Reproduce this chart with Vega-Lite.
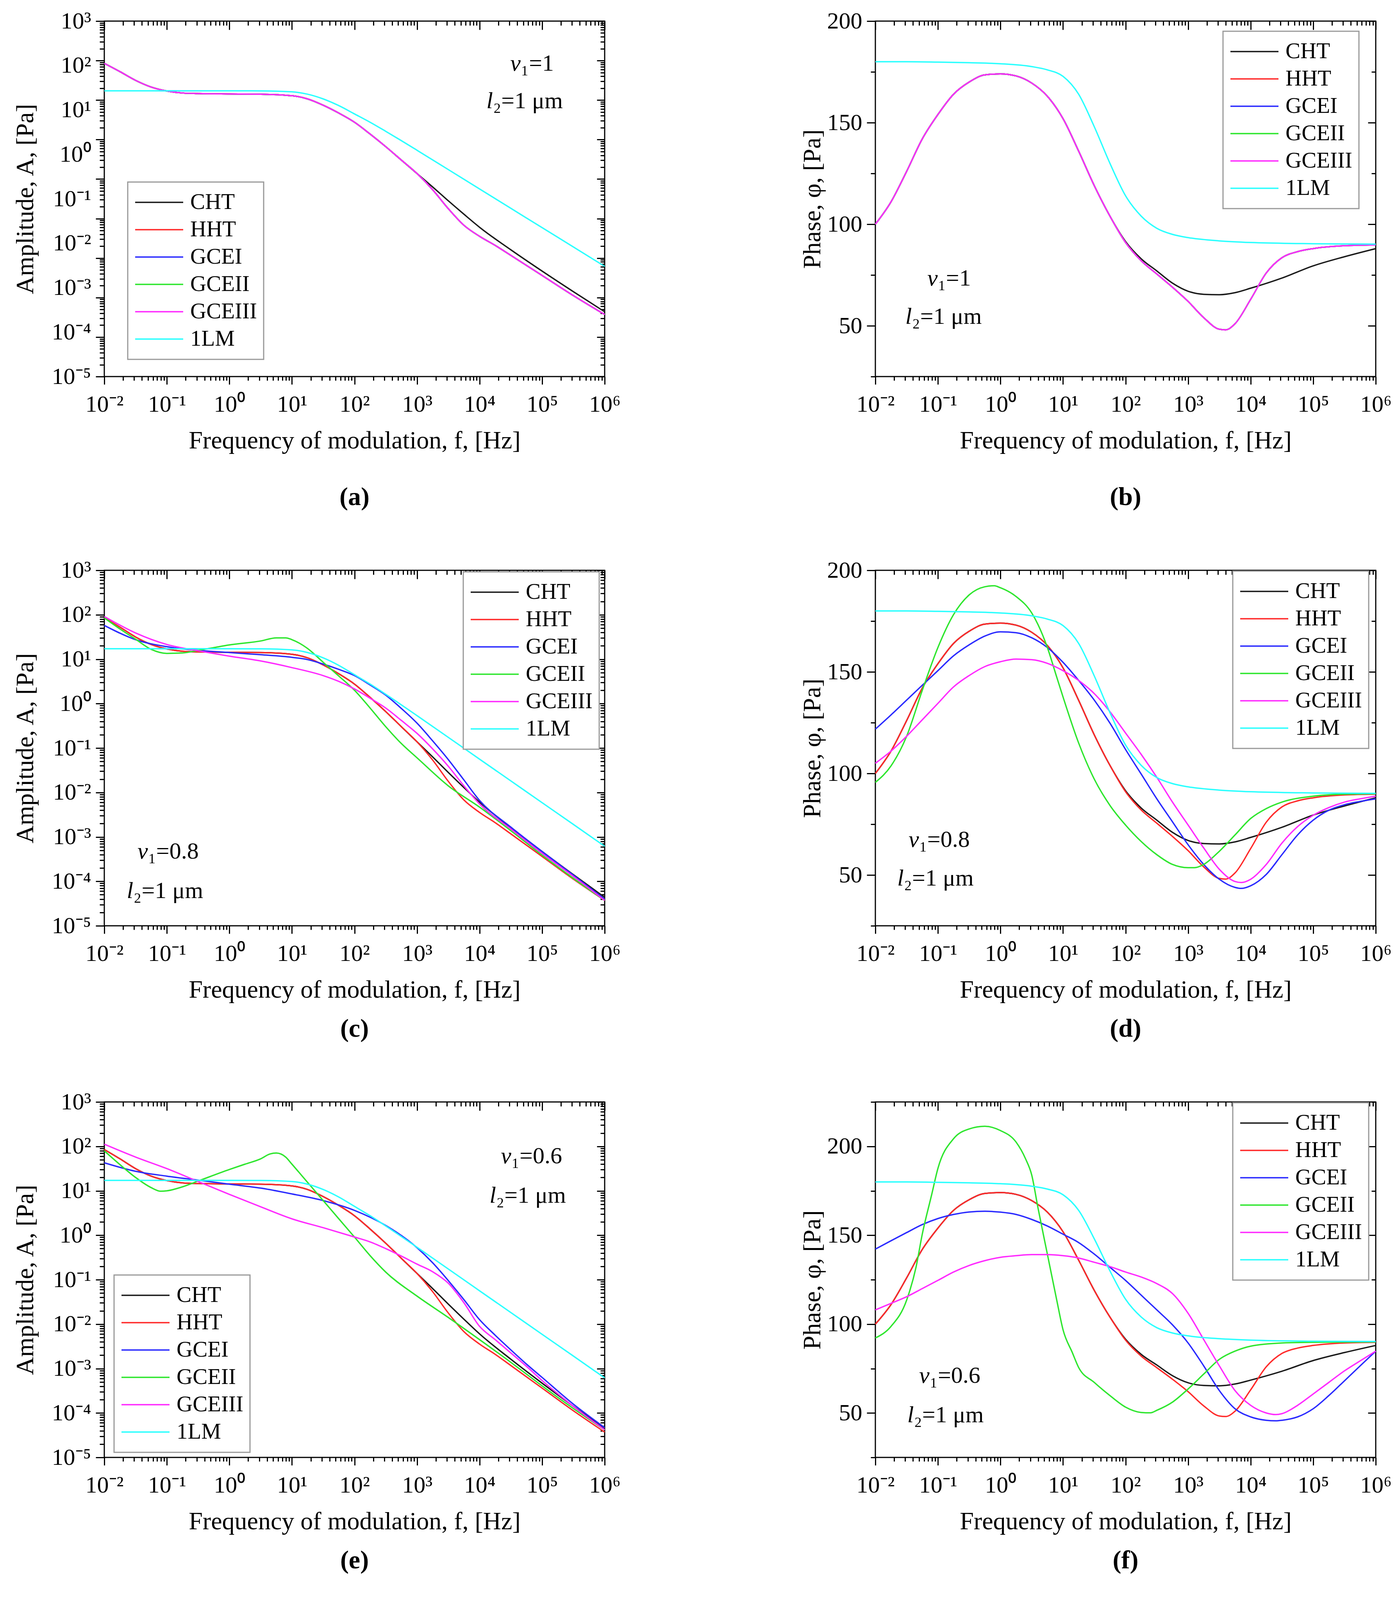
{
"$schema":"https://vega.github.io/schema/vega-lite/v6.json",
"padding":{"left":31,"top":22,"right":5,"bottom":5},
"config":{
 "font":"Liberation Serif",
 "view":{"stroke":"black","strokeWidth":3},
 "axis":{"labelFont":"Liberation Serif","titleFont":"Liberation Serif","labelFontSize":60,"titleFontSize":64,"titleFontWeight":"normal","labelColor":"black","titleColor":"black","tickColor":"black","grid":false,"domain":false,"tickWidth":3,"labelOverlap":false,"labelFlush":false},
 "legend":{"orient":"none","title":null,"symbolType":"stroke","symbolSize":15129,"symbolStrokeWidth":3.5,"clipHeight":70,"rowPadding":0,"labelFont":"Liberation Serif","labelFontSize":57,"labelColor":"black","labelOffset":16,"labelLimit":400,"padding":17,"strokeColor":"#999999","strokeWidth":3,"fillColor":"white"},
 "title":{"font":"Liberation Serif","fontSize":66,"fontWeight":"bold","color":"black"},
 "text":{"font":"Liberation Serif","fontSize":60,"color":"black"}
},
"datasets":{
"a":[
{"s":"CHT","f":0.01,"v":85.1},{"s":"CHT","f":0.01778,"v":52.5},{"s":"CHT","f":0.03162,"v":31.6},{"s":"CHT","f":0.05623,"v":21.4},{"s":"CHT","f":0.1,"v":17.0},{"s":"CHT","f":0.1778,"v":15.1},{"s":"CHT","f":0.3162,"v":14.6},{"s":"CHT","f":1,"v":14.3},{"s":"CHT","f":3.162,"v":14.1},{"s":"CHT","f":10,"v":12.9},{"s":"CHT","f":17.78,"v":10.7},{"s":"CHT","f":31.62,"v":7.41},{"s":"CHT","f":56.23,"v":4.68},{"s":"CHT","f":100,"v":2.75},{"s":"CHT","f":177.8,"v":1.38},{"s":"CHT","f":316.2,"v":0.661},{"s":"CHT","f":562.3,"v":0.302},{"s":"CHT","f":1000,"v":0.138},{"s":"CHT","f":1778,"v":0.0631},{"s":"CHT","f":3162,"v":0.0282},{"s":"CHT","f":5623,"v":0.0129},{"s":"CHT","f":10000,"v":0.00603},{"s":"CHT","f":31623,"v":0.00162},{"s":"CHT","f":100000,"v":0.000468},{"s":"CHT","f":316228,"v":0.000141},{"s":"CHT","f":1000000,"v":0.0000437},
{"s":"HHT","f":0.01,"v":85.1},{"s":"HHT","f":0.01778,"v":52.5},{"s":"HHT","f":0.03162,"v":31.6},{"s":"HHT","f":0.05623,"v":21.4},{"s":"HHT","f":0.1,"v":17.0},{"s":"HHT","f":0.1778,"v":15.1},{"s":"HHT","f":0.3162,"v":14.6},{"s":"HHT","f":1,"v":14.3},{"s":"HHT","f":3.162,"v":14.1},{"s":"HHT","f":10,"v":12.9},{"s":"HHT","f":17.78,"v":10.7},{"s":"HHT","f":31.62,"v":7.41},{"s":"HHT","f":56.23,"v":4.68},{"s":"HHT","f":100,"v":2.75},{"s":"HHT","f":177.8,"v":1.38},{"s":"HHT","f":316.2,"v":0.661},{"s":"HHT","f":562.3,"v":0.302},{"s":"HHT","f":1000,"v":0.138},{"s":"HHT","f":1778,"v":0.0537},{"s":"HHT","f":3162,"v":0.0178},{"s":"HHT","f":5623,"v":0.00676},{"s":"HHT","f":10000,"v":0.00355},{"s":"HHT","f":17783,"v":0.00209},{"s":"HHT","f":31623,"v":0.00117},{"s":"HHT","f":100000,"v":0.000363},{"s":"HHT","f":316228,"v":0.000112},{"s":"HHT","f":1000000,"v":0.0000372},
{"s":"GCEI","f":0.01,"v":85.1},{"s":"GCEI","f":0.01778,"v":52.5},{"s":"GCEI","f":0.03162,"v":31.6},{"s":"GCEI","f":0.05623,"v":21.4},{"s":"GCEI","f":0.1,"v":17.0},{"s":"GCEI","f":0.1778,"v":15.1},{"s":"GCEI","f":0.3162,"v":14.6},{"s":"GCEI","f":1,"v":14.3},{"s":"GCEI","f":3.162,"v":14.1},{"s":"GCEI","f":10,"v":12.9},{"s":"GCEI","f":17.78,"v":10.7},{"s":"GCEI","f":31.62,"v":7.41},{"s":"GCEI","f":56.23,"v":4.68},{"s":"GCEI","f":100,"v":2.75},{"s":"GCEI","f":177.8,"v":1.38},{"s":"GCEI","f":316.2,"v":0.661},{"s":"GCEI","f":562.3,"v":0.302},{"s":"GCEI","f":1000,"v":0.138},{"s":"GCEI","f":1778,"v":0.0537},{"s":"GCEI","f":3162,"v":0.0178},{"s":"GCEI","f":5623,"v":0.00676},{"s":"GCEI","f":10000,"v":0.00355},{"s":"GCEI","f":17783,"v":0.00209},{"s":"GCEI","f":31623,"v":0.00117},{"s":"GCEI","f":100000,"v":0.000363},{"s":"GCEI","f":316228,"v":0.000112},{"s":"GCEI","f":1000000,"v":0.0000372},
{"s":"GCEII","f":0.01,"v":85.1},{"s":"GCEII","f":0.01778,"v":52.5},{"s":"GCEII","f":0.03162,"v":31.6},{"s":"GCEII","f":0.05623,"v":21.4},{"s":"GCEII","f":0.1,"v":17.0},{"s":"GCEII","f":0.1778,"v":15.1},{"s":"GCEII","f":0.3162,"v":14.6},{"s":"GCEII","f":1,"v":14.3},{"s":"GCEII","f":3.162,"v":14.1},{"s":"GCEII","f":10,"v":12.9},{"s":"GCEII","f":17.78,"v":10.7},{"s":"GCEII","f":31.62,"v":7.41},{"s":"GCEII","f":56.23,"v":4.68},{"s":"GCEII","f":100,"v":2.75},{"s":"GCEII","f":177.8,"v":1.38},{"s":"GCEII","f":316.2,"v":0.661},{"s":"GCEII","f":562.3,"v":0.302},{"s":"GCEII","f":1000,"v":0.138},{"s":"GCEII","f":1778,"v":0.0537},{"s":"GCEII","f":3162,"v":0.0178},{"s":"GCEII","f":5623,"v":0.00676},{"s":"GCEII","f":10000,"v":0.00355},{"s":"GCEII","f":17783,"v":0.00209},{"s":"GCEII","f":31623,"v":0.00117},{"s":"GCEII","f":100000,"v":0.000363},{"s":"GCEII","f":316228,"v":0.000112},{"s":"GCEII","f":1000000,"v":0.0000372},
{"s":"GCEIII","f":0.01,"v":85.1},{"s":"GCEIII","f":0.01778,"v":52.5},{"s":"GCEIII","f":0.03162,"v":31.6},{"s":"GCEIII","f":0.05623,"v":21.4},{"s":"GCEIII","f":0.1,"v":17.0},{"s":"GCEIII","f":0.1778,"v":15.1},{"s":"GCEIII","f":0.3162,"v":14.6},{"s":"GCEIII","f":1,"v":14.3},{"s":"GCEIII","f":3.162,"v":14.1},{"s":"GCEIII","f":10,"v":12.9},{"s":"GCEIII","f":17.78,"v":10.7},{"s":"GCEIII","f":31.62,"v":7.41},{"s":"GCEIII","f":56.23,"v":4.68},{"s":"GCEIII","f":100,"v":2.75},{"s":"GCEIII","f":177.8,"v":1.38},{"s":"GCEIII","f":316.2,"v":0.661},{"s":"GCEIII","f":562.3,"v":0.302},{"s":"GCEIII","f":1000,"v":0.138},{"s":"GCEIII","f":1778,"v":0.0537},{"s":"GCEIII","f":3162,"v":0.0178},{"s":"GCEIII","f":5623,"v":0.00676},{"s":"GCEIII","f":10000,"v":0.00355},{"s":"GCEIII","f":17783,"v":0.00209},{"s":"GCEIII","f":31623,"v":0.00117},{"s":"GCEIII","f":100000,"v":0.000363},{"s":"GCEIII","f":316228,"v":0.000112},{"s":"GCEIII","f":1000000,"v":0.0000372},
{"s":"1LM","f":0.01,"v":17.2},{"s":"1LM","f":0.1,"v":17.2},{"s":"1LM","f":1,"v":17.2},{"s":"1LM","f":3.162,"v":17.1},{"s":"1LM","f":10,"v":16.2},{"s":"1LM","f":17.78,"v":14.1},{"s":"1LM","f":31.62,"v":10.7},{"s":"1LM","f":56.23,"v":7.24},{"s":"1LM","f":100,"v":4.47},{"s":"1LM","f":177.8,"v":2.75},{"s":"1LM","f":316.2,"v":1.62},{"s":"1LM","f":1000,"v":0.537},{"s":"1LM","f":3162,"v":0.174},{"s":"1LM","f":10000,"v":0.0562},{"s":"1LM","f":31623,"v":0.0182},{"s":"1LM","f":100000,"v":0.00589},{"s":"1LM","f":316228,"v":0.00191},{"s":"1LM","f":1000000,"v":0.000617}
],
"c":[
{"s":"CHT","f":0.01,"v":85.1},{"s":"CHT","f":0.01778,"v":52.5},{"s":"CHT","f":0.03162,"v":31.6},{"s":"CHT","f":0.05623,"v":21.4},{"s":"CHT","f":0.1,"v":17.0},{"s":"CHT","f":0.1778,"v":15.1},{"s":"CHT","f":0.3162,"v":14.6},{"s":"CHT","f":1,"v":14.3},{"s":"CHT","f":3.162,"v":14.1},{"s":"CHT","f":10,"v":12.9},{"s":"CHT","f":17.78,"v":10.7},{"s":"CHT","f":31.62,"v":7.41},{"s":"CHT","f":56.23,"v":4.68},{"s":"CHT","f":100,"v":2.75},{"s":"CHT","f":177.8,"v":1.38},{"s":"CHT","f":316.2,"v":0.661},{"s":"CHT","f":562.3,"v":0.302},{"s":"CHT","f":1000,"v":0.138},{"s":"CHT","f":1778,"v":0.0631},{"s":"CHT","f":3162,"v":0.0282},{"s":"CHT","f":5623,"v":0.0129},{"s":"CHT","f":10000,"v":0.00603},{"s":"CHT","f":31623,"v":0.00162},{"s":"CHT","f":100000,"v":0.000468},{"s":"CHT","f":316228,"v":0.000141},{"s":"CHT","f":1000000,"v":0.0000437},
{"s":"HHT","f":0.01,"v":85.1},{"s":"HHT","f":0.01778,"v":52.5},{"s":"HHT","f":0.03162,"v":31.6},{"s":"HHT","f":0.05623,"v":21.4},{"s":"HHT","f":0.1,"v":17.0},{"s":"HHT","f":0.1778,"v":15.1},{"s":"HHT","f":0.3162,"v":14.6},{"s":"HHT","f":1,"v":14.3},{"s":"HHT","f":3.162,"v":14.1},{"s":"HHT","f":10,"v":12.9},{"s":"HHT","f":17.78,"v":10.7},{"s":"HHT","f":31.62,"v":7.41},{"s":"HHT","f":56.23,"v":4.68},{"s":"HHT","f":100,"v":2.75},{"s":"HHT","f":177.8,"v":1.38},{"s":"HHT","f":316.2,"v":0.661},{"s":"HHT","f":562.3,"v":0.302},{"s":"HHT","f":1000,"v":0.138},{"s":"HHT","f":1778,"v":0.0537},{"s":"HHT","f":3162,"v":0.0178},{"s":"HHT","f":5623,"v":0.00676},{"s":"HHT","f":10000,"v":0.00355},{"s":"HHT","f":17783,"v":0.00209},{"s":"HHT","f":31623,"v":0.00117},{"s":"HHT","f":100000,"v":0.000363},{"s":"HHT","f":316228,"v":0.000112},{"s":"HHT","f":1000000,"v":0.0000372},
{"s":"GCEI","f":0.01,"v":57.5},{"s":"GCEI","f":0.03162,"v":27.5},{"s":"GCEI","f":0.1,"v":19.1},{"s":"GCEI","f":0.3162,"v":15.8},{"s":"GCEI","f":1,"v":14.1},{"s":"GCEI","f":3.162,"v":12.6},{"s":"GCEI","f":10,"v":11.0},{"s":"GCEI","f":17.78,"v":9.77},{"s":"GCEI","f":31.62,"v":7.76},{"s":"GCEI","f":56.23,"v":5.89},{"s":"GCEI","f":100,"v":4.27},{"s":"GCEI","f":177.8,"v":2.63},{"s":"GCEI","f":316.2,"v":1.55},{"s":"GCEI","f":562.3,"v":0.776},{"s":"GCEI","f":1000,"v":0.363},{"s":"GCEI","f":1778,"v":0.145},{"s":"GCEI","f":3162,"v":0.055},{"s":"GCEI","f":5623,"v":0.0191},{"s":"GCEI","f":10000,"v":0.00661},{"s":"GCEI","f":31623,"v":0.00166},{"s":"GCEI","f":100000,"v":0.000468},{"s":"GCEI","f":316228,"v":0.000138},{"s":"GCEI","f":1000000,"v":0.0000398},
{"s":"GCEII","f":0.01,"v":85.1},{"s":"GCEII","f":0.01778,"v":47.9},{"s":"GCEII","f":0.03162,"v":28.2},{"s":"GCEII","f":0.05623,"v":16.6},{"s":"GCEII","f":0.1,"v":13.5},{"s":"GCEII","f":0.1778,"v":13.8},{"s":"GCEII","f":0.3162,"v":15.8},{"s":"GCEII","f":0.5623,"v":18.2},{"s":"GCEII","f":1,"v":20.9},{"s":"GCEII","f":3.162,"v":25.7},{"s":"GCEII","f":5.623,"v":30.2},{"s":"GCEII","f":7.943,"v":30.2},{"s":"GCEII","f":10,"v":27.5},{"s":"GCEII","f":17.78,"v":17.4},{"s":"GCEII","f":31.62,"v":8.51},{"s":"GCEII","f":56.23,"v":4.17},{"s":"GCEII","f":100,"v":2.0},{"s":"GCEII","f":177.8,"v":0.794},{"s":"GCEII","f":316.2,"v":0.302},{"s":"GCEII","f":562.3,"v":0.126},{"s":"GCEII","f":1000,"v":0.0603},{"s":"GCEII","f":3162,"v":0.0141},{"s":"GCEII","f":10000,"v":0.00468},{"s":"GCEII","f":31623,"v":0.00138},{"s":"GCEII","f":100000,"v":0.000389},{"s":"GCEII","f":316228,"v":0.000117},{"s":"GCEII","f":1000000,"v":0.0000372},
{"s":"GCEIII","f":0.01,"v":91.2},{"s":"GCEIII","f":0.03162,"v":38.9},{"s":"GCEIII","f":0.1,"v":21.4},{"s":"GCEIII","f":0.3162,"v":15.5},{"s":"GCEIII","f":1,"v":11.7},{"s":"GCEIII","f":3.162,"v":9.12},{"s":"GCEIII","f":10,"v":6.46},{"s":"GCEIII","f":31.62,"v":4.27},{"s":"GCEIII","f":56.23,"v":3.16},{"s":"GCEIII","f":100,"v":2.14},{"s":"GCEIII","f":177.8,"v":1.32},{"s":"GCEIII","f":316.2,"v":0.794},{"s":"GCEIII","f":562.3,"v":0.417},{"s":"GCEIII","f":1000,"v":0.214},{"s":"GCEIII","f":1778,"v":0.0955},{"s":"GCEIII","f":3162,"v":0.0389},{"s":"GCEIII","f":5623,"v":0.0141},{"s":"GCEIII","f":10000,"v":0.0055},{"s":"GCEIII","f":31623,"v":0.00151},{"s":"GCEIII","f":100000,"v":0.000427},{"s":"GCEIII","f":316228,"v":0.000129},{"s":"GCEIII","f":1000000,"v":0.0000372},
{"s":"1LM","f":0.01,"v":17.2},{"s":"1LM","f":0.1,"v":17.2},{"s":"1LM","f":1,"v":17.2},{"s":"1LM","f":3.162,"v":17.1},{"s":"1LM","f":10,"v":16.2},{"s":"1LM","f":17.78,"v":14.1},{"s":"1LM","f":31.62,"v":10.7},{"s":"1LM","f":56.23,"v":7.24},{"s":"1LM","f":100,"v":4.47},{"s":"1LM","f":177.8,"v":2.75},{"s":"1LM","f":316.2,"v":1.62},{"s":"1LM","f":1000,"v":0.537},{"s":"1LM","f":3162,"v":0.174},{"s":"1LM","f":10000,"v":0.0562},{"s":"1LM","f":31623,"v":0.0182},{"s":"1LM","f":100000,"v":0.00589},{"s":"1LM","f":316228,"v":0.00191},{"s":"1LM","f":1000000,"v":0.000617}
],
"e":[
{"s":"CHT","f":0.01,"v":85.1},{"s":"CHT","f":0.01778,"v":52.5},{"s":"CHT","f":0.03162,"v":31.6},{"s":"CHT","f":0.05623,"v":21.4},{"s":"CHT","f":0.1,"v":17.0},{"s":"CHT","f":0.1778,"v":15.1},{"s":"CHT","f":0.3162,"v":14.6},{"s":"CHT","f":1,"v":14.3},{"s":"CHT","f":3.162,"v":14.1},{"s":"CHT","f":10,"v":12.9},{"s":"CHT","f":17.78,"v":10.7},{"s":"CHT","f":31.62,"v":7.41},{"s":"CHT","f":56.23,"v":4.68},{"s":"CHT","f":100,"v":2.75},{"s":"CHT","f":177.8,"v":1.38},{"s":"CHT","f":316.2,"v":0.661},{"s":"CHT","f":562.3,"v":0.302},{"s":"CHT","f":1000,"v":0.138},{"s":"CHT","f":1778,"v":0.0631},{"s":"CHT","f":3162,"v":0.0282},{"s":"CHT","f":5623,"v":0.0129},{"s":"CHT","f":10000,"v":0.00603},{"s":"CHT","f":31623,"v":0.00162},{"s":"CHT","f":100000,"v":0.000468},{"s":"CHT","f":316228,"v":0.000141},{"s":"CHT","f":1000000,"v":0.0000437},
{"s":"HHT","f":0.01,"v":85.1},{"s":"HHT","f":0.01778,"v":52.5},{"s":"HHT","f":0.03162,"v":31.6},{"s":"HHT","f":0.05623,"v":21.4},{"s":"HHT","f":0.1,"v":17.0},{"s":"HHT","f":0.1778,"v":15.1},{"s":"HHT","f":0.3162,"v":14.6},{"s":"HHT","f":1,"v":14.3},{"s":"HHT","f":3.162,"v":14.1},{"s":"HHT","f":10,"v":12.9},{"s":"HHT","f":17.78,"v":10.7},{"s":"HHT","f":31.62,"v":7.41},{"s":"HHT","f":56.23,"v":4.68},{"s":"HHT","f":100,"v":2.75},{"s":"HHT","f":177.8,"v":1.38},{"s":"HHT","f":316.2,"v":0.661},{"s":"HHT","f":562.3,"v":0.302},{"s":"HHT","f":1000,"v":0.138},{"s":"HHT","f":1778,"v":0.0537},{"s":"HHT","f":3162,"v":0.0178},{"s":"HHT","f":5623,"v":0.00676},{"s":"HHT","f":10000,"v":0.00355},{"s":"HHT","f":17783,"v":0.00209},{"s":"HHT","f":31623,"v":0.00117},{"s":"HHT","f":100000,"v":0.000363},{"s":"HHT","f":316228,"v":0.000112},{"s":"HHT","f":1000000,"v":0.0000372},
{"s":"GCEI","f":0.01,"v":42.7},{"s":"GCEI","f":0.03162,"v":27.5},{"s":"GCEI","f":0.1,"v":21.4},{"s":"GCEI","f":0.3162,"v":17.4},{"s":"GCEI","f":1,"v":14.1},{"s":"GCEI","f":3.162,"v":11.5},{"s":"GCEI","f":10,"v":8.51},{"s":"GCEI","f":31.62,"v":6.03},{"s":"GCEI","f":100,"v":3.63},{"s":"GCEI","f":316.2,"v":1.66},{"s":"GCEI","f":1000,"v":0.525},{"s":"GCEI","f":1778,"v":0.24},{"s":"GCEI","f":3162,"v":0.0955},{"s":"GCEI","f":5623,"v":0.0355},{"s":"GCEI","f":10000,"v":0.0126},{"s":"GCEI","f":17783,"v":0.00562},{"s":"GCEI","f":31623,"v":0.00263},{"s":"GCEI","f":56234,"v":0.00126},{"s":"GCEI","f":100000,"v":0.000631},{"s":"GCEI","f":316228,"v":0.000158},{"s":"GCEI","f":1000000,"v":0.0000468},
{"s":"GCEII","f":0.01,"v":79.4},{"s":"GCEII","f":0.01778,"v":38.9},{"s":"GCEII","f":0.03162,"v":20.0},{"s":"GCEII","f":0.05623,"v":11.8},{"s":"GCEII","f":0.07943,"v":9.8},{"s":"GCEII","f":0.1,"v":10.0},{"s":"GCEII","f":0.1778,"v":12.3},{"s":"GCEII","f":0.3162,"v":16.6},{"s":"GCEII","f":1,"v":30.2},{"s":"GCEII","f":1.778,"v":39.8},{"s":"GCEII","f":3.162,"v":52.5},{"s":"GCEII","f":4.467,"v":67.6},{"s":"GCEII","f":5.623,"v":70.8},{"s":"GCEII","f":7.943,"v":57.5},{"s":"GCEII","f":10,"v":39.8},{"s":"GCEII","f":17.78,"v":15.5},{"s":"GCEII","f":31.62,"v":6.03},{"s":"GCEII","f":56.23,"v":2.34},{"s":"GCEII","f":100,"v":0.912},{"s":"GCEII","f":177.8,"v":0.347},{"s":"GCEII","f":316.2,"v":0.148},{"s":"GCEII","f":1000,"v":0.0427},{"s":"GCEII","f":3162,"v":0.0141},{"s":"GCEII","f":10000,"v":0.00447},{"s":"GCEII","f":31623,"v":0.00138},{"s":"GCEII","f":100000,"v":0.000407},{"s":"GCEII","f":316228,"v":0.000126},{"s":"GCEII","f":1000000,"v":0.0000417},
{"s":"GCEIII","f":0.01,"v":112},{"s":"GCEIII","f":0.03162,"v":57.5},{"s":"GCEIII","f":0.1,"v":31.6},{"s":"GCEIII","f":0.3162,"v":16.2},{"s":"GCEIII","f":1,"v":8.32},{"s":"GCEIII","f":3.162,"v":4.37},{"s":"GCEIII","f":10,"v":2.34},{"s":"GCEIII","f":31.62,"v":1.48},{"s":"GCEIII","f":100,"v":0.912},{"s":"GCEIII","f":177.8,"v":0.708},{"s":"GCEIII","f":316.2,"v":0.501},{"s":"GCEIII","f":562.3,"v":0.339},{"s":"GCEIII","f":1000,"v":0.224},{"s":"GCEIII","f":1778,"v":0.151},{"s":"GCEIII","f":3162,"v":0.0832},{"s":"GCEIII","f":5623,"v":0.0302},{"s":"GCEIII","f":10000,"v":0.00891},{"s":"GCEIII","f":17783,"v":0.00447},{"s":"GCEIII","f":31623,"v":0.00224},{"s":"GCEIII","f":56234,"v":0.00112},{"s":"GCEIII","f":100000,"v":0.000537},{"s":"GCEIII","f":316228,"v":0.000141},{"s":"GCEIII","f":1000000,"v":0.0000417},
{"s":"1LM","f":0.01,"v":17.2},{"s":"1LM","f":0.1,"v":17.2},{"s":"1LM","f":1,"v":17.2},{"s":"1LM","f":3.162,"v":17.1},{"s":"1LM","f":10,"v":16.2},{"s":"1LM","f":17.78,"v":14.1},{"s":"1LM","f":31.62,"v":10.7},{"s":"1LM","f":56.23,"v":7.24},{"s":"1LM","f":100,"v":4.47},{"s":"1LM","f":177.8,"v":2.75},{"s":"1LM","f":316.2,"v":1.62},{"s":"1LM","f":1000,"v":0.537},{"s":"1LM","f":3162,"v":0.174},{"s":"1LM","f":10000,"v":0.0562},{"s":"1LM","f":31623,"v":0.0182},{"s":"1LM","f":100000,"v":0.00589},{"s":"1LM","f":316228,"v":0.00191},{"s":"1LM","f":1000000,"v":0.000617}
],
"b":[
{"s":"CHT","f":0.01,"v":100},{"s":"CHT","f":0.01778,"v":111},{"s":"CHT","f":0.03162,"v":126},{"s":"CHT","f":0.05623,"v":142},{"s":"CHT","f":0.1,"v":154},{"s":"CHT","f":0.1778,"v":164},{"s":"CHT","f":0.3162,"v":170},{"s":"CHT","f":0.5623,"v":173.5},{"s":"CHT","f":1,"v":174},{"s":"CHT","f":1.778,"v":173},{"s":"CHT","f":3.162,"v":169.5},{"s":"CHT","f":5.623,"v":163},{"s":"CHT","f":10,"v":152},{"s":"CHT","f":17.78,"v":136},{"s":"CHT","f":31.62,"v":119},{"s":"CHT","f":56.23,"v":104},{"s":"CHT","f":100,"v":91.5},{"s":"CHT","f":177.8,"v":83},{"s":"CHT","f":316.2,"v":77},{"s":"CHT","f":562.3,"v":71},{"s":"CHT","f":1000,"v":67},{"s":"CHT","f":1778,"v":65.5},{"s":"CHT","f":3162,"v":65.3},{"s":"CHT","f":5623,"v":66.3},{"s":"CHT","f":10000,"v":68.5},{"s":"CHT","f":31623,"v":73.5},{"s":"CHT","f":100000,"v":79.5},{"s":"CHT","f":316228,"v":84},{"s":"CHT","f":1000000,"v":88},
{"s":"HHT","f":0.01,"v":100},{"s":"HHT","f":0.01778,"v":111},{"s":"HHT","f":0.03162,"v":126},{"s":"HHT","f":0.05623,"v":142},{"s":"HHT","f":0.1,"v":154},{"s":"HHT","f":0.1778,"v":164},{"s":"HHT","f":0.3162,"v":170},{"s":"HHT","f":0.5623,"v":173.5},{"s":"HHT","f":1,"v":174},{"s":"HHT","f":1.778,"v":173},{"s":"HHT","f":3.162,"v":169.5},{"s":"HHT","f":5.623,"v":163},{"s":"HHT","f":10,"v":152},{"s":"HHT","f":17.78,"v":136},{"s":"HHT","f":31.62,"v":119},{"s":"HHT","f":56.23,"v":104},{"s":"HHT","f":100,"v":91},{"s":"HHT","f":177.8,"v":82},{"s":"HHT","f":316.2,"v":75.5},{"s":"HHT","f":562.3,"v":69},{"s":"HHT","f":1000,"v":62},{"s":"HHT","f":1778,"v":54},{"s":"HHT","f":3162,"v":48.3},{"s":"HHT","f":3981,"v":48},{"s":"HHT","f":5623,"v":51},{"s":"HHT","f":10000,"v":63},{"s":"HHT","f":17783,"v":76},{"s":"HHT","f":31623,"v":83.5},{"s":"HHT","f":56234,"v":86.5},{"s":"HHT","f":100000,"v":88},{"s":"HHT","f":316228,"v":89.4},{"s":"HHT","f":1000000,"v":89.8},
{"s":"GCEI","f":0.01,"v":100},{"s":"GCEI","f":0.01778,"v":111},{"s":"GCEI","f":0.03162,"v":126},{"s":"GCEI","f":0.05623,"v":142},{"s":"GCEI","f":0.1,"v":154},{"s":"GCEI","f":0.1778,"v":164},{"s":"GCEI","f":0.3162,"v":170},{"s":"GCEI","f":0.5623,"v":173.5},{"s":"GCEI","f":1,"v":174},{"s":"GCEI","f":1.778,"v":173},{"s":"GCEI","f":3.162,"v":169.5},{"s":"GCEI","f":5.623,"v":163},{"s":"GCEI","f":10,"v":152},{"s":"GCEI","f":17.78,"v":136},{"s":"GCEI","f":31.62,"v":119},{"s":"GCEI","f":56.23,"v":104},{"s":"GCEI","f":100,"v":91},{"s":"GCEI","f":177.8,"v":82},{"s":"GCEI","f":316.2,"v":75.5},{"s":"GCEI","f":562.3,"v":69},{"s":"GCEI","f":1000,"v":62},{"s":"GCEI","f":1778,"v":54},{"s":"GCEI","f":3162,"v":48.3},{"s":"GCEI","f":3981,"v":48},{"s":"GCEI","f":5623,"v":51},{"s":"GCEI","f":10000,"v":63},{"s":"GCEI","f":17783,"v":76},{"s":"GCEI","f":31623,"v":83.5},{"s":"GCEI","f":56234,"v":86.5},{"s":"GCEI","f":100000,"v":88},{"s":"GCEI","f":316228,"v":89.4},{"s":"GCEI","f":1000000,"v":89.8},
{"s":"GCEII","f":0.01,"v":100},{"s":"GCEII","f":0.01778,"v":111},{"s":"GCEII","f":0.03162,"v":126},{"s":"GCEII","f":0.05623,"v":142},{"s":"GCEII","f":0.1,"v":154},{"s":"GCEII","f":0.1778,"v":164},{"s":"GCEII","f":0.3162,"v":170},{"s":"GCEII","f":0.5623,"v":173.5},{"s":"GCEII","f":1,"v":174},{"s":"GCEII","f":1.778,"v":173},{"s":"GCEII","f":3.162,"v":169.5},{"s":"GCEII","f":5.623,"v":163},{"s":"GCEII","f":10,"v":152},{"s":"GCEII","f":17.78,"v":136},{"s":"GCEII","f":31.62,"v":119},{"s":"GCEII","f":56.23,"v":104},{"s":"GCEII","f":100,"v":91},{"s":"GCEII","f":177.8,"v":82},{"s":"GCEII","f":316.2,"v":75.5},{"s":"GCEII","f":562.3,"v":69},{"s":"GCEII","f":1000,"v":62},{"s":"GCEII","f":1778,"v":54},{"s":"GCEII","f":3162,"v":48.3},{"s":"GCEII","f":3981,"v":48},{"s":"GCEII","f":5623,"v":51},{"s":"GCEII","f":10000,"v":63},{"s":"GCEII","f":17783,"v":76},{"s":"GCEII","f":31623,"v":83.5},{"s":"GCEII","f":56234,"v":86.5},{"s":"GCEII","f":100000,"v":88},{"s":"GCEII","f":316228,"v":89.4},{"s":"GCEII","f":1000000,"v":89.8},
{"s":"GCEIII","f":0.01,"v":100},{"s":"GCEIII","f":0.01778,"v":111},{"s":"GCEIII","f":0.03162,"v":126},{"s":"GCEIII","f":0.05623,"v":142},{"s":"GCEIII","f":0.1,"v":154},{"s":"GCEIII","f":0.1778,"v":164},{"s":"GCEIII","f":0.3162,"v":170},{"s":"GCEIII","f":0.5623,"v":173.5},{"s":"GCEIII","f":1,"v":174},{"s":"GCEIII","f":1.778,"v":173},{"s":"GCEIII","f":3.162,"v":169.5},{"s":"GCEIII","f":5.623,"v":163},{"s":"GCEIII","f":10,"v":152},{"s":"GCEIII","f":17.78,"v":136},{"s":"GCEIII","f":31.62,"v":119},{"s":"GCEIII","f":56.23,"v":104},{"s":"GCEIII","f":100,"v":91},{"s":"GCEIII","f":177.8,"v":82},{"s":"GCEIII","f":316.2,"v":75.5},{"s":"GCEIII","f":562.3,"v":69},{"s":"GCEIII","f":1000,"v":62},{"s":"GCEIII","f":1778,"v":54},{"s":"GCEIII","f":3162,"v":48.3},{"s":"GCEIII","f":3981,"v":48},{"s":"GCEIII","f":5623,"v":51},{"s":"GCEIII","f":10000,"v":63},{"s":"GCEIII","f":17783,"v":76},{"s":"GCEIII","f":31623,"v":83.5},{"s":"GCEIII","f":56234,"v":86.5},{"s":"GCEIII","f":100000,"v":88},{"s":"GCEIII","f":316228,"v":89.4},{"s":"GCEIII","f":1000000,"v":89.8},
{"s":"1LM","f":0.01,"v":180},{"s":"1LM","f":0.03162,"v":180},{"s":"1LM","f":0.1,"v":179.8},{"s":"1LM","f":0.3162,"v":179.5},{"s":"1LM","f":1,"v":179},{"s":"1LM","f":3.162,"v":177.6},{"s":"1LM","f":5.623,"v":176},{"s":"1LM","f":10,"v":172.8},{"s":"1LM","f":17.78,"v":164},{"s":"1LM","f":31.62,"v":148},{"s":"1LM","f":56.23,"v":130},{"s":"1LM","f":100,"v":114},{"s":"1LM","f":177.8,"v":104},{"s":"1LM","f":316.2,"v":98},{"s":"1LM","f":562.3,"v":95},{"s":"1LM","f":1000,"v":93.4},{"s":"1LM","f":3162,"v":91.8},{"s":"1LM","f":10000,"v":91},{"s":"1LM","f":100000,"v":90.4},{"s":"1LM","f":1000000,"v":90.2}
],
"d":[
{"s":"CHT","f":0.01,"v":100},{"s":"CHT","f":0.01778,"v":111},{"s":"CHT","f":0.03162,"v":126},{"s":"CHT","f":0.05623,"v":142},{"s":"CHT","f":0.1,"v":154},{"s":"CHT","f":0.1778,"v":164},{"s":"CHT","f":0.3162,"v":170},{"s":"CHT","f":0.5623,"v":173.5},{"s":"CHT","f":1,"v":174},{"s":"CHT","f":1.778,"v":173},{"s":"CHT","f":3.162,"v":169.5},{"s":"CHT","f":5.623,"v":163},{"s":"CHT","f":10,"v":152},{"s":"CHT","f":17.78,"v":136},{"s":"CHT","f":31.62,"v":119},{"s":"CHT","f":56.23,"v":104},{"s":"CHT","f":100,"v":91.5},{"s":"CHT","f":177.8,"v":83},{"s":"CHT","f":316.2,"v":77},{"s":"CHT","f":562.3,"v":71},{"s":"CHT","f":1000,"v":67},{"s":"CHT","f":1778,"v":65.5},{"s":"CHT","f":3162,"v":65.3},{"s":"CHT","f":5623,"v":66.3},{"s":"CHT","f":10000,"v":68.5},{"s":"CHT","f":31623,"v":73.5},{"s":"CHT","f":100000,"v":79.5},{"s":"CHT","f":316228,"v":84},{"s":"CHT","f":1000000,"v":88},
{"s":"HHT","f":0.01,"v":100},{"s":"HHT","f":0.01778,"v":111},{"s":"HHT","f":0.03162,"v":126},{"s":"HHT","f":0.05623,"v":142},{"s":"HHT","f":0.1,"v":154},{"s":"HHT","f":0.1778,"v":164},{"s":"HHT","f":0.3162,"v":170},{"s":"HHT","f":0.5623,"v":173.5},{"s":"HHT","f":1,"v":174},{"s":"HHT","f":1.778,"v":173},{"s":"HHT","f":3.162,"v":169.5},{"s":"HHT","f":5.623,"v":163},{"s":"HHT","f":10,"v":152},{"s":"HHT","f":17.78,"v":136},{"s":"HHT","f":31.62,"v":119},{"s":"HHT","f":56.23,"v":104},{"s":"HHT","f":100,"v":91},{"s":"HHT","f":177.8,"v":82},{"s":"HHT","f":316.2,"v":75.5},{"s":"HHT","f":562.3,"v":69},{"s":"HHT","f":1000,"v":62},{"s":"HHT","f":1778,"v":54},{"s":"HHT","f":3162,"v":48.3},{"s":"HHT","f":3981,"v":48},{"s":"HHT","f":5623,"v":51},{"s":"HHT","f":10000,"v":63},{"s":"HHT","f":17783,"v":76},{"s":"HHT","f":31623,"v":83.5},{"s":"HHT","f":56234,"v":86.5},{"s":"HHT","f":100000,"v":88},{"s":"HHT","f":316228,"v":89.4},{"s":"HHT","f":1000000,"v":89.8},
{"s":"GCEI","f":0.01,"v":121.8},{"s":"GCEI","f":0.01778,"v":128.8},{"s":"GCEI","f":0.03162,"v":136.1},{"s":"GCEI","f":0.05623,"v":143.4},{"s":"GCEI","f":0.1,"v":150.6},{"s":"GCEI","f":0.1778,"v":157.9},{"s":"GCEI","f":0.3162,"v":163.3},{"s":"GCEI","f":0.5623,"v":167.6},{"s":"GCEI","f":1,"v":169.7},{"s":"GCEI","f":1.778,"v":169.3},{"s":"GCEI","f":3.162,"v":166.8},{"s":"GCEI","f":5.623,"v":162},{"s":"GCEI","f":10,"v":154.7},{"s":"GCEI","f":17.78,"v":145.8},{"s":"GCEI","f":31.62,"v":136.1},{"s":"GCEI","f":56.23,"v":124.8},{"s":"GCEI","f":100,"v":111.8},{"s":"GCEI","f":177.8,"v":99.7},{"s":"GCEI","f":316.2,"v":87.5},{"s":"GCEI","f":562.3,"v":76.2},{"s":"GCEI","f":1000,"v":64.9},{"s":"GCEI","f":1778,"v":55.2},{"s":"GCEI","f":3162,"v":47.9},{"s":"GCEI","f":5623,"v":43.9},{"s":"GCEI","f":7079,"v":43.4},{"s":"GCEI","f":10000,"v":44.7},{"s":"GCEI","f":17783,"v":50.3},{"s":"GCEI","f":31623,"v":60},{"s":"GCEI","f":56234,"v":69.7},{"s":"GCEI","f":100000,"v":77},{"s":"GCEI","f":177828,"v":81.9},{"s":"GCEI","f":316228,"v":84.6},{"s":"GCEI","f":562341,"v":86.2},{"s":"GCEI","f":1000000,"v":87.5},
{"s":"GCEII","f":0.01,"v":95.6},{"s":"GCEII","f":0.01778,"v":103.7},{"s":"GCEII","f":0.03162,"v":118.3},{"s":"GCEII","f":0.05623,"v":140.9},{"s":"GCEII","f":0.1,"v":162},{"s":"GCEII","f":0.1778,"v":178.2},{"s":"GCEII","f":0.3162,"v":187.9},{"s":"GCEII","f":0.5623,"v":191.9},{"s":"GCEII","f":0.7943,"v":192.4},{"s":"GCEII","f":1,"v":191.4},{"s":"GCEII","f":1.778,"v":187.1},{"s":"GCEII","f":3.162,"v":179},{"s":"GCEII","f":3.981,"v":173.3},{"s":"GCEII","f":5.623,"v":162},{"s":"GCEII","f":7.943,"v":147.4},{"s":"GCEII","f":10,"v":137.7},{"s":"GCEII","f":17.78,"v":115},{"s":"GCEII","f":31.62,"v":97.2},{"s":"GCEII","f":56.23,"v":84.3},{"s":"GCEII","f":100,"v":74.6},{"s":"GCEII","f":177.8,"v":66.5},{"s":"GCEII","f":316.2,"v":60},{"s":"GCEII","f":562.3,"v":55.2},{"s":"GCEII","f":1000,"v":53.6},{"s":"GCEII","f":1259,"v":53.6},{"s":"GCEII","f":1778,"v":55.2},{"s":"GCEII","f":3162,"v":61.7},{"s":"GCEII","f":5623,"v":69.7},{"s":"GCEII","f":10000,"v":77.8},{"s":"GCEII","f":17783,"v":82.7},{"s":"GCEII","f":31623,"v":85.9},{"s":"GCEII","f":100000,"v":88.8},{"s":"GCEII","f":316228,"v":89.8},{"s":"GCEII","f":1000000,"v":90},
{"s":"GCEIII","f":0.01,"v":105},{"s":"GCEIII","f":0.01778,"v":111},{"s":"GCEIII","f":0.03162,"v":118.3},{"s":"GCEIII","f":0.05623,"v":126.4},{"s":"GCEIII","f":0.1,"v":134.5},{"s":"GCEIII","f":0.1778,"v":142.6},{"s":"GCEIII","f":0.3162,"v":148.2},{"s":"GCEIII","f":0.5623,"v":152.6},{"s":"GCEIII","f":1,"v":155},{"s":"GCEIII","f":1.778,"v":156.3},{"s":"GCEIII","f":3.162,"v":156},{"s":"GCEIII","f":5.623,"v":154.2},{"s":"GCEIII","f":10,"v":150.6},{"s":"GCEIII","f":17.78,"v":145.8},{"s":"GCEIII","f":31.62,"v":139.3},{"s":"GCEIII","f":56.23,"v":130.4},{"s":"GCEIII","f":100,"v":119.9},{"s":"GCEIII","f":177.8,"v":109.4},{"s":"GCEIII","f":316.2,"v":98.1},{"s":"GCEIII","f":562.3,"v":85.9},{"s":"GCEIII","f":1000,"v":74.6},{"s":"GCEIII","f":1778,"v":63.3},{"s":"GCEIII","f":3162,"v":52.8},{"s":"GCEIII","f":5623,"v":46.8},{"s":"GCEIII","f":7079,"v":46.3},{"s":"GCEIII","f":10000,"v":47.9},{"s":"GCEIII","f":17783,"v":55.2},{"s":"GCEIII","f":31623,"v":65.7},{"s":"GCEIII","f":56234,"v":73.8},{"s":"GCEIII","f":100000,"v":79.4},{"s":"GCEIII","f":177828,"v":83.2},{"s":"GCEIII","f":316228,"v":85.9},{"s":"GCEIII","f":562341,"v":87.5},{"s":"GCEIII","f":1000000,"v":88.8},
{"s":"1LM","f":0.01,"v":180},{"s":"1LM","f":0.03162,"v":180},{"s":"1LM","f":0.1,"v":179.8},{"s":"1LM","f":0.3162,"v":179.5},{"s":"1LM","f":1,"v":179},{"s":"1LM","f":3.162,"v":177.6},{"s":"1LM","f":5.623,"v":176},{"s":"1LM","f":10,"v":172.8},{"s":"1LM","f":17.78,"v":164},{"s":"1LM","f":31.62,"v":148},{"s":"1LM","f":56.23,"v":130},{"s":"1LM","f":100,"v":114},{"s":"1LM","f":177.8,"v":104},{"s":"1LM","f":316.2,"v":98},{"s":"1LM","f":562.3,"v":95},{"s":"1LM","f":1000,"v":93.4},{"s":"1LM","f":3162,"v":91.8},{"s":"1LM","f":10000,"v":91},{"s":"1LM","f":100000,"v":90.4},{"s":"1LM","f":1000000,"v":90.2}
],
"f":[
{"s":"CHT","f":0.01,"v":100},{"s":"CHT","f":0.01778,"v":111},{"s":"CHT","f":0.03162,"v":126},{"s":"CHT","f":0.05623,"v":142},{"s":"CHT","f":0.1,"v":154},{"s":"CHT","f":0.1778,"v":164},{"s":"CHT","f":0.3162,"v":170},{"s":"CHT","f":0.5623,"v":173.5},{"s":"CHT","f":1,"v":174},{"s":"CHT","f":1.778,"v":173},{"s":"CHT","f":3.162,"v":169.5},{"s":"CHT","f":5.623,"v":163},{"s":"CHT","f":10,"v":152},{"s":"CHT","f":17.78,"v":136},{"s":"CHT","f":31.62,"v":119},{"s":"CHT","f":56.23,"v":104},{"s":"CHT","f":100,"v":91.5},{"s":"CHT","f":177.8,"v":83},{"s":"CHT","f":316.2,"v":77},{"s":"CHT","f":562.3,"v":71},{"s":"CHT","f":1000,"v":67},{"s":"CHT","f":1778,"v":65.5},{"s":"CHT","f":3162,"v":65.3},{"s":"CHT","f":5623,"v":66.3},{"s":"CHT","f":10000,"v":68.5},{"s":"CHT","f":31623,"v":73.5},{"s":"CHT","f":100000,"v":79.5},{"s":"CHT","f":316228,"v":84},{"s":"CHT","f":1000000,"v":88},
{"s":"HHT","f":0.01,"v":100},{"s":"HHT","f":0.01778,"v":111},{"s":"HHT","f":0.03162,"v":126},{"s":"HHT","f":0.05623,"v":142},{"s":"HHT","f":0.1,"v":154},{"s":"HHT","f":0.1778,"v":164},{"s":"HHT","f":0.3162,"v":170},{"s":"HHT","f":0.5623,"v":173.5},{"s":"HHT","f":1,"v":174},{"s":"HHT","f":1.778,"v":173},{"s":"HHT","f":3.162,"v":169.5},{"s":"HHT","f":5.623,"v":163},{"s":"HHT","f":10,"v":152},{"s":"HHT","f":17.78,"v":136},{"s":"HHT","f":31.62,"v":119},{"s":"HHT","f":56.23,"v":104},{"s":"HHT","f":100,"v":91},{"s":"HHT","f":177.8,"v":82},{"s":"HHT","f":316.2,"v":75.5},{"s":"HHT","f":562.3,"v":69},{"s":"HHT","f":1000,"v":62},{"s":"HHT","f":1778,"v":54},{"s":"HHT","f":3162,"v":48.3},{"s":"HHT","f":3981,"v":48},{"s":"HHT","f":5623,"v":51},{"s":"HHT","f":10000,"v":63},{"s":"HHT","f":17783,"v":76},{"s":"HHT","f":31623,"v":83.5},{"s":"HHT","f":56234,"v":86.5},{"s":"HHT","f":100000,"v":88},{"s":"HHT","f":316228,"v":89.4},{"s":"HHT","f":1000000,"v":89.8},
{"s":"GCEI","f":0.01,"v":142.2},{"s":"GCEI","f":0.01778,"v":146.9},{"s":"GCEI","f":0.03162,"v":151.5},{"s":"GCEI","f":0.05623,"v":156},{"s":"GCEI","f":0.1,"v":159.4},{"s":"GCEI","f":0.1778,"v":161.7},{"s":"GCEI","f":0.3162,"v":163.1},{"s":"GCEI","f":0.5623,"v":163.5},{"s":"GCEI","f":1,"v":163},{"s":"GCEI","f":1.778,"v":161.7},{"s":"GCEI","f":3.162,"v":158.9},{"s":"GCEI","f":5.623,"v":155.2},{"s":"GCEI","f":10,"v":150.6},{"s":"GCEI","f":17.78,"v":145.9},{"s":"GCEI","f":31.62,"v":139.4},{"s":"GCEI","f":56.23,"v":132},{"s":"GCEI","f":100,"v":124.6},{"s":"GCEI","f":177.8,"v":116.3},{"s":"GCEI","f":316.2,"v":108},{"s":"GCEI","f":562.3,"v":99.6},{"s":"GCEI","f":1000,"v":89.4},{"s":"GCEI","f":1778,"v":76.5},{"s":"GCEI","f":3162,"v":62.6},{"s":"GCEI","f":5623,"v":52.4},{"s":"GCEI","f":10000,"v":47.8},{"s":"GCEI","f":17783,"v":45.9},{"s":"GCEI","f":25119,"v":45.6},{"s":"GCEI","f":31623,"v":45.9},{"s":"GCEI","f":56234,"v":47.8},{"s":"GCEI","f":100000,"v":52.4},{"s":"GCEI","f":177828,"v":59.8},{"s":"GCEI","f":316228,"v":68.1},{"s":"GCEI","f":562341,"v":76.5},{"s":"GCEI","f":1000000,"v":84.8},
{"s":"GCEII","f":0.01,"v":92.2},{"s":"GCEII","f":0.01778,"v":98.7},{"s":"GCEII","f":0.03162,"v":113.5},{"s":"GCEII","f":0.04467,"v":132},{"s":"GCEII","f":0.05623,"v":150.6},{"s":"GCEII","f":0.07943,"v":172.8},{"s":"GCEII","f":0.1,"v":187.6},{"s":"GCEII","f":0.1778,"v":204.3},{"s":"GCEII","f":0.3162,"v":209.8},{"s":"GCEII","f":0.5623,"v":211.3},{"s":"GCEII","f":1,"v":208.9},{"s":"GCEII","f":1.778,"v":202.4},{"s":"GCEII","f":2.512,"v":193.1},{"s":"GCEII","f":3.162,"v":183.9},{"s":"GCEII","f":3.981,"v":165.4},{"s":"GCEII","f":5.623,"v":139.4},{"s":"GCEII","f":7.943,"v":113.5},{"s":"GCEII","f":10,"v":96.9},{"s":"GCEII","f":14.13,"v":83.9},{"s":"GCEII","f":17.78,"v":75.6},{"s":"GCEII","f":31.62,"v":67.2},{"s":"GCEII","f":56.23,"v":59.8},{"s":"GCEII","f":100,"v":53.3},{"s":"GCEII","f":177.8,"v":50.3},{"s":"GCEII","f":251.2,"v":50.1},{"s":"GCEII","f":316.2,"v":51.5},{"s":"GCEII","f":562.3,"v":56.1},{"s":"GCEII","f":1000,"v":63.5},{"s":"GCEII","f":1778,"v":71.9},{"s":"GCEII","f":3162,"v":80.2},{"s":"GCEII","f":5623,"v":84.8},{"s":"GCEII","f":10000,"v":87.6},{"s":"GCEII","f":31623,"v":89.4},{"s":"GCEII","f":100000,"v":89.8},{"s":"GCEII","f":1000000,"v":90},
{"s":"GCEIII","f":0.01,"v":108},{"s":"GCEIII","f":0.01778,"v":111.7},{"s":"GCEIII","f":0.03162,"v":115.4},{"s":"GCEIII","f":0.05623,"v":120},{"s":"GCEIII","f":0.1,"v":124.6},{"s":"GCEIII","f":0.1778,"v":129.3},{"s":"GCEIII","f":0.3162,"v":133},{"s":"GCEIII","f":0.5623,"v":135.7},{"s":"GCEIII","f":1,"v":137.6},{"s":"GCEIII","f":1.778,"v":138.5},{"s":"GCEIII","f":3.162,"v":139.1},{"s":"GCEIII","f":5.623,"v":139.1},{"s":"GCEIII","f":10,"v":138.5},{"s":"GCEIII","f":17.78,"v":137.2},{"s":"GCEIII","f":31.62,"v":134.8},{"s":"GCEIII","f":56.23,"v":132.4},{"s":"GCEIII","f":100,"v":129.3},{"s":"GCEIII","f":177.8,"v":126.5},{"s":"GCEIII","f":316.2,"v":122.8},{"s":"GCEIII","f":562.3,"v":117.2},{"s":"GCEIII","f":1000,"v":106.1},{"s":"GCEIII","f":1778,"v":91.3},{"s":"GCEIII","f":3162,"v":76.5},{"s":"GCEIII","f":5623,"v":62.6},{"s":"GCEIII","f":10000,"v":54.3},{"s":"GCEIII","f":17783,"v":50},{"s":"GCEIII","f":25119,"v":49.1},{"s":"GCEIII","f":31623,"v":49.6},{"s":"GCEIII","f":56234,"v":54.3},{"s":"GCEIII","f":100000,"v":60.7},{"s":"GCEIII","f":177828,"v":67.2},{"s":"GCEIII","f":316228,"v":73.7},{"s":"GCEIII","f":562341,"v":79.3},{"s":"GCEIII","f":1000000,"v":84.8},
{"s":"1LM","f":0.01,"v":180},{"s":"1LM","f":0.03162,"v":180},{"s":"1LM","f":0.1,"v":179.8},{"s":"1LM","f":0.3162,"v":179.5},{"s":"1LM","f":1,"v":179},{"s":"1LM","f":3.162,"v":177.6},{"s":"1LM","f":5.623,"v":176},{"s":"1LM","f":10,"v":172.8},{"s":"1LM","f":17.78,"v":164},{"s":"1LM","f":31.62,"v":148},{"s":"1LM","f":56.23,"v":130},{"s":"1LM","f":100,"v":114},{"s":"1LM","f":177.8,"v":104},{"s":"1LM","f":316.2,"v":98},{"s":"1LM","f":562.3,"v":95},{"s":"1LM","f":1000,"v":93.4},{"s":"1LM","f":3162,"v":91.8},{"s":"1LM","f":10000,"v":91},{"s":"1LM","f":100000,"v":90.4},{"s":"1LM","f":1000000,"v":90.2}
]
},
"spacing":120,
"resolve":{"scale":{"color":"independent"},"legend":{"color":"independent"}},
"vconcat":[
{"hconcat":[
 {"width":1281,"height":910,"title":{"text":"(a)","orient":"bottom","offset":81},
  "layer":[
   {"data":{"name":"a"},"mark":{"type":"line","interpolate":"monotone","strokeWidth":3.5},
    "encoding":{
     "x":{"field":"f","type":"quantitative","scale":{"type":"log","domain":[0.01,1000000],"nice":false},"axis":{"orient":"bottom","values":[0.01,0.1,1,10,100,1000,10000,100000,1000000],"labelExpr":"['10⁻²','10⁻¹','10⁰','10¹','10²','10³','10⁴','10⁵','10⁶'][round(log(datum.value)/LN10)+2]","title":"Frequency of modulation, f, [Hz]","tickSize":20,"labelPadding":22,"titlePadding":31}},
     "y":{"field":"v","type":"quantitative","scale":{"type":"log","domain":[0.000001,1000],"nice":false},"axis":{"orient":"left","values":[0.000001,0.00001,0.0001,0.001,0.01,0.1,1,10,100,1000],"labels":false,"title":null,"tickSize":22}},
     "color":{"field":"s","type":"nominal","scale":{"domain":["CHT","HHT","GCEI","GCEII","GCEIII","1LM"],"range":["#1a1a1a","#ff2a2a","#2a2aff","#2ee62e","#ff2aff","#2affff"]},"legend":{"legendX":60,"legendY":412}}}},
   {"data":{"values":[{}]},"mark":{"type":"text","text":" "},
    "encoding":{"x":{"datum":1,"type":"quantitative","scale":{"type":"log","domain":[0.01,1000000],"nice":false},"axis":null},
     "y":{"datum":1,"type":"quantitative","scale":{"type":"log","domain":[0.00001,1000],"nice":false},"axis":{"orient":"left","values":[0.00001,0.0001,0.001,0.01,0.1,1,10,100,1000],"labelExpr":"['10⁻⁵','10⁻⁴','10⁻³','10⁻²','10⁻¹','10⁰','10¹','10²','10³'][round(log(datum.value)/LN10)+5]","title":"Amplitude, A, [Pa]","tickSize":22,"tickOpacity":0,"labelPadding":12,"titlePadding":35}}}},
   {"data":{"values":[{}]},"mark":{"type":"text","text":"ν","fontStyle":"italic","align":"left","baseline":"middle"},
    "encoding":{"x":{"datum":30903,"type":"quantitative","scale":{"type":"log","domain":[0.01,1000000],"nice":false},"axis":{"orient":"top","values":[0.01,0.1,1,10,100,1000,10000,100000,1000000],"labels":false,"title":null,"tickSize":-22}},
     "y":{"datum":83.2,"type":"quantitative","scale":{"type":"log","domain":[0.000001,1000],"nice":false},"axis":{"orient":"right","values":[0.000001,0.00001,0.0001,0.001,0.01,0.1,1,10,100,1000],"labels":false,"title":null,"tickSize":-20}}}},
   {"data":{"values":[{}]},"mark":{"type":"text","text":"₁=1","align":"left","baseline":"middle","dx":27},
    "encoding":{"x":{"datum":30903,"type":"quantitative","scale":{"type":"log","domain":[0.01,1000000],"nice":false},"axis":{"orient":"bottom","values":[0.02,0.03,0.04,0.05,0.06,0.07,0.08,0.09,0.2,0.3,0.4,0.5,0.6,0.7,0.8,0.9,2,3,4,5,6,7,8,9,20,30,40,50,60,70,80,90,200,300,400,500,600,700,800,900,2000,3000,4000,5000,6000,7000,8000,9000,20000,30000,40000,50000,60000,70000,80000,90000,200000,300000,400000,500000,600000,700000,800000,900000],"labels":false,"title":null,"tickSize":10}},
     "y":{"datum":83.2,"type":"quantitative","scale":{"type":"log","domain":[0.000001,1000],"nice":false},"axis":{"orient":"left","values":[2e-6,3e-6,4e-6,5e-6,6e-6,7e-6,8e-6,9e-6,2e-5,3e-5,4e-5,5e-5,6e-5,7e-5,8e-5,9e-5,2e-4,3e-4,4e-4,5e-4,6e-4,7e-4,8e-4,9e-4,0.002,0.003,0.004,0.005,0.006,0.007,0.008,0.009,0.02,0.03,0.04,0.05,0.06,0.07,0.08,0.09,0.2,0.3,0.4,0.5,0.6,0.7,0.8,0.9,2,3,4,5,6,7,8,9,20,30,40,50,60,70,80,90,200,300,400,500,600,700,800,900],"labels":false,"title":null,"tickSize":12}}}},
   {"data":{"values":[{}]},"mark":{"type":"text","text":"l","fontStyle":"italic","align":"left","baseline":"middle"},
    "encoding":{"x":{"datum":12882,"type":"quantitative","scale":{"type":"log","domain":[0.01,1000000],"nice":false},"axis":{"orient":"top","values":[0.02,0.03,0.04,0.05,0.06,0.07,0.08,0.09,0.2,0.3,0.4,0.5,0.6,0.7,0.8,0.9,2,3,4,5,6,7,8,9,20,30,40,50,60,70,80,90,200,300,400,500,600,700,800,900,2000,3000,4000,5000,6000,7000,8000,9000,20000,30000,40000,50000,60000,70000,80000,90000,200000,300000,400000,500000,600000,700000,800000,900000],"labels":false,"title":null,"tickSize":-11}},
     "y":{"datum":9.33,"type":"quantitative","scale":{"type":"log","domain":[0.000001,1000],"nice":false},"axis":{"orient":"right","values":[2e-6,3e-6,4e-6,5e-6,6e-6,7e-6,8e-6,9e-6,2e-5,3e-5,4e-5,5e-5,6e-5,7e-5,8e-5,9e-5,2e-4,3e-4,4e-4,5e-4,6e-4,7e-4,8e-4,9e-4,0.002,0.003,0.004,0.005,0.006,0.007,0.008,0.009,0.02,0.03,0.04,0.05,0.06,0.07,0.08,0.09,0.2,0.3,0.4,0.5,0.6,0.7,0.8,0.9,2,3,4,5,6,7,8,9,20,30,40,50,60,70,80,90,200,300,400,500,600,700,800,900],"labels":false,"title":null,"tickSize":-11}}}},
   {"data":{"values":[{}]},"mark":{"type":"text","text":"₂=1 μm","align":"left","baseline":"middle","dx":17},
    "encoding":{"x":{"datum":12882,"type":"quantitative","scale":{"type":"log","domain":[0.01,1000000],"nice":false},"axis":null},
     "y":{"datum":9.33,"type":"quantitative","scale":{"type":"log","domain":[0.000001,1000],"nice":false},"axis":null}}}
  ],
  "resolve":{"axis":{"x":"independent","y":"independent"},"scale":{"y":"independent"}}},
 {"width":1281,"height":910,"title":{"text":"(b)","orient":"bottom","offset":81},
  "layer":[
   {"data":{"name":"b"},"mark":{"type":"line","interpolate":"monotone","strokeWidth":3.5},
    "encoding":{
     "x":{"field":"f","type":"quantitative","scale":{"type":"log","domain":[0.01,1000000],"nice":false},"axis":{"orient":"bottom","values":[0.01,0.1,1,10,100,1000,10000,100000,1000000],"labelExpr":"['10⁻²','10⁻¹','10⁰','10¹','10²','10³','10⁴','10⁵','10⁶'][round(log(datum.value)/LN10)+2]","title":"Frequency of modulation, f, [Hz]","tickSize":20,"labelPadding":22,"titlePadding":31}},
     "y":{"field":"v","type":"quantitative","scale":{"domain":[25,200],"nice":false,"zero":false},"axis":{"orient":"left","values":[50,100,150,200],"title":"Phase, φ, [Pa]","tickSize":22,"labelPadding":12,"titlePadding":5}},
     "color":{"field":"s","type":"nominal","scale":{"domain":["CHT","HHT","GCEI","GCEII","GCEIII","1LM"],"range":["#1a1a1a","#ff2a2a","#2a2aff","#2ee62e","#ff2aff","#2affff"]},"legend":{"legendX":890,"legendY":26}}}},
   {"data":{"values":[{}]},"mark":{"type":"text","text":"ν","fontStyle":"italic","align":"left","baseline":"middle"},
    "encoding":{"x":{"datum":0.0676,"type":"quantitative","scale":{"type":"log","domain":[0.01,1000000],"nice":false},"axis":{"orient":"top","values":[0.01,0.1,1,10,100,1000,10000,100000,1000000],"labels":false,"title":null,"tickSize":-22}},
     "y":{"datum":73.2,"type":"quantitative","scale":{"domain":[25,200],"nice":false,"zero":false},"axis":{"orient":"right","values":[50,100,150,200],"labels":false,"title":null,"tickSize":-20}}}},
   {"data":{"values":[{}]},"mark":{"type":"text","text":"₁=1","align":"left","baseline":"middle","dx":27},
    "encoding":{"x":{"datum":0.0676,"type":"quantitative","scale":{"type":"log","domain":[0.01,1000000],"nice":false},"axis":{"orient":"bottom","values":[0.02,0.03,0.04,0.05,0.06,0.07,0.08,0.09,0.2,0.3,0.4,0.5,0.6,0.7,0.8,0.9,2,3,4,5,6,7,8,9,20,30,40,50,60,70,80,90,200,300,400,500,600,700,800,900,2000,3000,4000,5000,6000,7000,8000,9000,20000,30000,40000,50000,60000,70000,80000,90000,200000,300000,400000,500000,600000,700000,800000,900000],"labels":false,"title":null,"tickSize":10}},
     "y":{"datum":73.2,"type":"quantitative","scale":{"domain":[25,200],"nice":false,"zero":false},"axis":{"orient":"left","values":[25,75,125,175],"labels":false,"title":null,"tickSize":12}}}},
   {"data":{"values":[{}]},"mark":{"type":"text","text":"l","fontStyle":"italic","align":"left","baseline":"middle"},
    "encoding":{"x":{"datum":0.0302,"type":"quantitative","scale":{"type":"log","domain":[0.01,1000000],"nice":false},"axis":{"orient":"top","values":[0.02,0.03,0.04,0.05,0.06,0.07,0.08,0.09,0.2,0.3,0.4,0.5,0.6,0.7,0.8,0.9,2,3,4,5,6,7,8,9,20,30,40,50,60,70,80,90,200,300,400,500,600,700,800,900,2000,3000,4000,5000,6000,7000,8000,9000,20000,30000,40000,50000,60000,70000,80000,90000,200000,300000,400000,500000,600000,700000,800000,900000],"labels":false,"title":null,"tickSize":-11}},
     "y":{"datum":54.5,"type":"quantitative","scale":{"domain":[25,200],"nice":false,"zero":false},"axis":{"orient":"right","values":[25,75,125,175],"labels":false,"title":null,"tickSize":-11}}}},
   {"data":{"values":[{}]},"mark":{"type":"text","text":"₂=1 μm","align":"left","baseline":"middle","dx":17},
    "encoding":{"x":{"datum":0.0302,"type":"quantitative","scale":{"type":"log","domain":[0.01,1000000],"nice":false},"axis":null},
     "y":{"datum":54.5,"type":"quantitative","scale":{"domain":[25,200],"nice":false,"zero":false},"axis":null}}}
  ],
  "resolve":{"axis":{"x":"independent","y":"independent"}}}
 ],"spacing":456,"resolve":{"scale":{"color":"independent"},"legend":{"color":"independent"}}},
{"hconcat":[
 {"width":1281,"height":910,"title":{"text":"(c)","orient":"bottom","offset":36},
  "layer":[
   {"data":{"name":"c"},"mark":{"type":"line","interpolate":"monotone","strokeWidth":3.5},
    "encoding":{
     "x":{"field":"f","type":"quantitative","scale":{"type":"log","domain":[0.01,1000000],"nice":false},"axis":{"orient":"bottom","values":[0.01,0.1,1,10,100,1000,10000,100000,1000000],"labelExpr":"['10⁻²','10⁻¹','10⁰','10¹','10²','10³','10⁴','10⁵','10⁶'][round(log(datum.value)/LN10)+2]","title":"Frequency of modulation, f, [Hz]","tickSize":20,"labelPadding":22,"titlePadding":31}},
     "y":{"field":"v","type":"quantitative","scale":{"type":"log","domain":[0.00001,1000],"nice":false},"axis":{"orient":"left","values":[0.00001,0.0001,0.001,0.01,0.1,1,10,100,1000],"labelExpr":"['10⁻⁵','10⁻⁴','10⁻³','10⁻²','10⁻¹','10⁰','10¹','10²','10³'][round(log(datum.value)/LN10)+5]","title":"Amplitude, A, [Pa]","tickSize":22,"labelPadding":12,"titlePadding":35}},
     "color":{"field":"s","type":"nominal","scale":{"domain":["CHT","HHT","GCEI","GCEII","GCEIII","1LM"],"range":["#1a1a1a","#ff2a2a","#2a2aff","#2ee62e","#ff2aff","#2affff"]},"legend":{"legendX":919,"legendY":4}}}},
   {"data":{"values":[{}]},"mark":{"type":"text","text":"ν","fontStyle":"italic","align":"left","baseline":"middle"},
    "encoding":{"x":{"datum":0.0339,"type":"quantitative","scale":{"type":"log","domain":[0.01,1000000],"nice":false},"axis":{"orient":"top","values":[0.01,0.1,1,10,100,1000,10000,100000,1000000],"labels":false,"title":null,"tickSize":-22}},
     "y":{"datum":0.000468,"type":"quantitative","scale":{"type":"log","domain":[0.00001,1000],"nice":false},"axis":{"orient":"right","values":[0.00001,0.0001,0.001,0.01,0.1,1,10,100,1000],"labels":false,"title":null,"tickSize":-20}}}},
   {"data":{"values":[{}]},"mark":{"type":"text","text":"₁=0.8","align":"left","baseline":"middle","dx":27},
    "encoding":{"x":{"datum":0.0339,"type":"quantitative","scale":{"type":"log","domain":[0.01,1000000],"nice":false},"axis":{"orient":"bottom","values":[0.02,0.03,0.04,0.05,0.06,0.07,0.08,0.09,0.2,0.3,0.4,0.5,0.6,0.7,0.8,0.9,2,3,4,5,6,7,8,9,20,30,40,50,60,70,80,90,200,300,400,500,600,700,800,900,2000,3000,4000,5000,6000,7000,8000,9000,20000,30000,40000,50000,60000,70000,80000,90000,200000,300000,400000,500000,600000,700000,800000,900000],"labels":false,"title":null,"tickSize":10}},
     "y":{"datum":0.000468,"type":"quantitative","scale":{"type":"log","domain":[0.00001,1000],"nice":false},"axis":{"orient":"left","values":[2e-5,3e-5,4e-5,5e-5,6e-5,7e-5,8e-5,9e-5,2e-4,3e-4,4e-4,5e-4,6e-4,7e-4,8e-4,9e-4,0.002,0.003,0.004,0.005,0.006,0.007,0.008,0.009,0.02,0.03,0.04,0.05,0.06,0.07,0.08,0.09,0.2,0.3,0.4,0.5,0.6,0.7,0.8,0.9,2,3,4,5,6,7,8,9,20,30,40,50,60,70,80,90,200,300,400,500,600,700,800,900],"labels":false,"title":null,"tickSize":12}}}},
   {"data":{"values":[{}]},"mark":{"type":"text","text":"l","fontStyle":"italic","align":"left","baseline":"middle"},
    "encoding":{"x":{"datum":0.0229,"type":"quantitative","scale":{"type":"log","domain":[0.01,1000000],"nice":false},"axis":{"orient":"top","values":[0.02,0.03,0.04,0.05,0.06,0.07,0.08,0.09,0.2,0.3,0.4,0.5,0.6,0.7,0.8,0.9,2,3,4,5,6,7,8,9,20,30,40,50,60,70,80,90,200,300,400,500,600,700,800,900,2000,3000,4000,5000,6000,7000,8000,9000,20000,30000,40000,50000,60000,70000,80000,90000,200000,300000,400000,500000,600000,700000,800000,900000],"labels":false,"title":null,"tickSize":-11}},
     "y":{"datum":0.0000603,"type":"quantitative","scale":{"type":"log","domain":[0.00001,1000],"nice":false},"axis":{"orient":"right","values":[2e-5,3e-5,4e-5,5e-5,6e-5,7e-5,8e-5,9e-5,2e-4,3e-4,4e-4,5e-4,6e-4,7e-4,8e-4,9e-4,0.002,0.003,0.004,0.005,0.006,0.007,0.008,0.009,0.02,0.03,0.04,0.05,0.06,0.07,0.08,0.09,0.2,0.3,0.4,0.5,0.6,0.7,0.8,0.9,2,3,4,5,6,7,8,9,20,30,40,50,60,70,80,90,200,300,400,500,600,700,800,900],"labels":false,"title":null,"tickSize":-11}}}},
   {"data":{"values":[{}]},"mark":{"type":"text","text":"₂=1 μm","align":"left","baseline":"middle","dx":17},
    "encoding":{"x":{"datum":0.0229,"type":"quantitative","scale":{"type":"log","domain":[0.01,1000000],"nice":false},"axis":null},
     "y":{"datum":0.0000603,"type":"quantitative","scale":{"type":"log","domain":[0.00001,1000],"nice":false},"axis":null}}}
  ],
  "resolve":{"axis":{"x":"independent","y":"independent"}}},
 {"width":1281,"height":910,"title":{"text":"(d)","orient":"bottom","offset":36},
  "layer":[
   {"data":{"name":"d"},"mark":{"type":"line","interpolate":"monotone","strokeWidth":3.5},
    "encoding":{
     "x":{"field":"f","type":"quantitative","scale":{"type":"log","domain":[0.01,1000000],"nice":false},"axis":{"orient":"bottom","values":[0.01,0.1,1,10,100,1000,10000,100000,1000000],"labelExpr":"['10⁻²','10⁻¹','10⁰','10¹','10²','10³','10⁴','10⁵','10⁶'][round(log(datum.value)/LN10)+2]","title":"Frequency of modulation, f, [Hz]","tickSize":20,"labelPadding":22,"titlePadding":31}},
     "y":{"field":"v","type":"quantitative","scale":{"domain":[25,200],"nice":false,"zero":false},"axis":{"orient":"left","values":[50,100,150,200],"title":"Phase, φ, [Pa]","tickSize":22,"labelPadding":12,"titlePadding":5}},
     "color":{"field":"s","type":"nominal","scale":{"domain":["CHT","HHT","GCEI","GCEII","GCEIII","1LM"],"range":["#1a1a1a","#ff2a2a","#2a2aff","#2ee62e","#ff2aff","#2affff"]},"legend":{"legendX":915,"legendY":2}}}},
   {"data":{"values":[{}]},"mark":{"type":"text","text":"ν","fontStyle":"italic","align":"left","baseline":"middle"},
    "encoding":{"x":{"datum":0.0339,"type":"quantitative","scale":{"type":"log","domain":[0.01,1000000],"nice":false},"axis":{"orient":"top","values":[0.01,0.1,1,10,100,1000,10000,100000,1000000],"labels":false,"title":null,"tickSize":-22}},
     "y":{"datum":67.3,"type":"quantitative","scale":{"domain":[25,200],"nice":false,"zero":false},"axis":{"orient":"right","values":[50,100,150,200],"labels":false,"title":null,"tickSize":-20}}}},
   {"data":{"values":[{}]},"mark":{"type":"text","text":"₁=0.8","align":"left","baseline":"middle","dx":27},
    "encoding":{"x":{"datum":0.0339,"type":"quantitative","scale":{"type":"log","domain":[0.01,1000000],"nice":false},"axis":{"orient":"bottom","values":[0.02,0.03,0.04,0.05,0.06,0.07,0.08,0.09,0.2,0.3,0.4,0.5,0.6,0.7,0.8,0.9,2,3,4,5,6,7,8,9,20,30,40,50,60,70,80,90,200,300,400,500,600,700,800,900,2000,3000,4000,5000,6000,7000,8000,9000,20000,30000,40000,50000,60000,70000,80000,90000,200000,300000,400000,500000,600000,700000,800000,900000],"labels":false,"title":null,"tickSize":10}},
     "y":{"datum":67.3,"type":"quantitative","scale":{"domain":[25,200],"nice":false,"zero":false},"axis":{"orient":"left","values":[25,75,125,175],"labels":false,"title":null,"tickSize":12}}}},
   {"data":{"values":[{}]},"mark":{"type":"text","text":"l","fontStyle":"italic","align":"left","baseline":"middle"},
    "encoding":{"x":{"datum":0.0224,"type":"quantitative","scale":{"type":"log","domain":[0.01,1000000],"nice":false},"axis":{"orient":"top","values":[0.02,0.03,0.04,0.05,0.06,0.07,0.08,0.09,0.2,0.3,0.4,0.5,0.6,0.7,0.8,0.9,2,3,4,5,6,7,8,9,20,30,40,50,60,70,80,90,200,300,400,500,600,700,800,900,2000,3000,4000,5000,6000,7000,8000,9000,20000,30000,40000,50000,60000,70000,80000,90000,200000,300000,400000,500000,600000,700000,800000,900000],"labels":false,"title":null,"tickSize":-11}},
     "y":{"datum":48.2,"type":"quantitative","scale":{"domain":[25,200],"nice":false,"zero":false},"axis":{"orient":"right","values":[25,75,125,175],"labels":false,"title":null,"tickSize":-11}}}},
   {"data":{"values":[{}]},"mark":{"type":"text","text":"₂=1 μm","align":"left","baseline":"middle","dx":17},
    "encoding":{"x":{"datum":0.0224,"type":"quantitative","scale":{"type":"log","domain":[0.01,1000000],"nice":false},"axis":null},
     "y":{"datum":48.2,"type":"quantitative","scale":{"domain":[25,200],"nice":false,"zero":false},"axis":null}}}
  ],
  "resolve":{"axis":{"x":"independent","y":"independent"}}}
 ],"spacing":456,"resolve":{"scale":{"color":"independent"},"legend":{"color":"independent"}}},
{"hconcat":[
 {"width":1281,"height":910,"title":{"text":"(e)","orient":"bottom","offset":36},
  "layer":[
   {"data":{"name":"e"},"mark":{"type":"line","interpolate":"monotone","strokeWidth":3.5},
    "encoding":{
     "x":{"field":"f","type":"quantitative","scale":{"type":"log","domain":[0.01,1000000],"nice":false},"axis":{"orient":"bottom","values":[0.01,0.1,1,10,100,1000,10000,100000,1000000],"labelExpr":"['10⁻²','10⁻¹','10⁰','10¹','10²','10³','10⁴','10⁵','10⁶'][round(log(datum.value)/LN10)+2]","title":"Frequency of modulation, f, [Hz]","tickSize":20,"labelPadding":22,"titlePadding":31}},
     "y":{"field":"v","type":"quantitative","scale":{"type":"log","domain":[0.00001,1000],"nice":false},"axis":{"orient":"left","values":[0.00001,0.0001,0.001,0.01,0.1,1,10,100,1000],"labelExpr":"['10⁻⁵','10⁻⁴','10⁻³','10⁻²','10⁻¹','10⁰','10¹','10²','10³'][round(log(datum.value)/LN10)+5]","title":"Amplitude, A, [Pa]","tickSize":22,"labelPadding":12,"titlePadding":35}},
     "color":{"field":"s","type":"nominal","scale":{"domain":["CHT","HHT","GCEI","GCEII","GCEIII","1LM"],"range":["#1a1a1a","#ff2a2a","#2a2aff","#2ee62e","#ff2aff","#2affff"]},"legend":{"legendX":25,"legendY":443}}}},
   {"data":{"values":[{}]},"mark":{"type":"text","text":"ν","fontStyle":"italic","align":"left","baseline":"middle"},
    "encoding":{"x":{"datum":21878,"type":"quantitative","scale":{"type":"log","domain":[0.01,1000000],"nice":false},"axis":{"orient":"top","values":[0.01,0.1,1,10,100,1000,10000,100000,1000000],"labels":false,"title":null,"tickSize":-22}},
     "y":{"datum":60.3,"type":"quantitative","scale":{"type":"log","domain":[0.00001,1000],"nice":false},"axis":{"orient":"right","values":[0.00001,0.0001,0.001,0.01,0.1,1,10,100,1000],"labels":false,"title":null,"tickSize":-20}}}},
   {"data":{"values":[{}]},"mark":{"type":"text","text":"₁=0.6","align":"left","baseline":"middle","dx":27},
    "encoding":{"x":{"datum":21878,"type":"quantitative","scale":{"type":"log","domain":[0.01,1000000],"nice":false},"axis":{"orient":"bottom","values":[0.02,0.03,0.04,0.05,0.06,0.07,0.08,0.09,0.2,0.3,0.4,0.5,0.6,0.7,0.8,0.9,2,3,4,5,6,7,8,9,20,30,40,50,60,70,80,90,200,300,400,500,600,700,800,900,2000,3000,4000,5000,6000,7000,8000,9000,20000,30000,40000,50000,60000,70000,80000,90000,200000,300000,400000,500000,600000,700000,800000,900000],"labels":false,"title":null,"tickSize":10}},
     "y":{"datum":60.3,"type":"quantitative","scale":{"type":"log","domain":[0.00001,1000],"nice":false},"axis":{"orient":"left","values":[2e-5,3e-5,4e-5,5e-5,6e-5,7e-5,8e-5,9e-5,2e-4,3e-4,4e-4,5e-4,6e-4,7e-4,8e-4,9e-4,0.002,0.003,0.004,0.005,0.006,0.007,0.008,0.009,0.02,0.03,0.04,0.05,0.06,0.07,0.08,0.09,0.2,0.3,0.4,0.5,0.6,0.7,0.8,0.9,2,3,4,5,6,7,8,9,20,30,40,50,60,70,80,90,200,300,400,500,600,700,800,900],"labels":false,"title":null,"tickSize":12}}}},
   {"data":{"values":[{}]},"mark":{"type":"text","text":"l","fontStyle":"italic","align":"left","baseline":"middle"},
    "encoding":{"x":{"datum":14454,"type":"quantitative","scale":{"type":"log","domain":[0.01,1000000],"nice":false},"axis":{"orient":"top","values":[0.02,0.03,0.04,0.05,0.06,0.07,0.08,0.09,0.2,0.3,0.4,0.5,0.6,0.7,0.8,0.9,2,3,4,5,6,7,8,9,20,30,40,50,60,70,80,90,200,300,400,500,600,700,800,900,2000,3000,4000,5000,6000,7000,8000,9000,20000,30000,40000,50000,60000,70000,80000,90000,200000,300000,400000,500000,600000,700000,800000,900000],"labels":false,"title":null,"tickSize":-11}},
     "y":{"datum":7.76,"type":"quantitative","scale":{"type":"log","domain":[0.00001,1000],"nice":false},"axis":{"orient":"right","values":[2e-5,3e-5,4e-5,5e-5,6e-5,7e-5,8e-5,9e-5,2e-4,3e-4,4e-4,5e-4,6e-4,7e-4,8e-4,9e-4,0.002,0.003,0.004,0.005,0.006,0.007,0.008,0.009,0.02,0.03,0.04,0.05,0.06,0.07,0.08,0.09,0.2,0.3,0.4,0.5,0.6,0.7,0.8,0.9,2,3,4,5,6,7,8,9,20,30,40,50,60,70,80,90,200,300,400,500,600,700,800,900],"labels":false,"title":null,"tickSize":-11}}}},
   {"data":{"values":[{}]},"mark":{"type":"text","text":"₂=1 μm","align":"left","baseline":"middle","dx":17},
    "encoding":{"x":{"datum":14454,"type":"quantitative","scale":{"type":"log","domain":[0.01,1000000],"nice":false},"axis":null},
     "y":{"datum":7.76,"type":"quantitative","scale":{"type":"log","domain":[0.00001,1000],"nice":false},"axis":null}}}
  ],
  "resolve":{"axis":{"x":"independent","y":"independent"}}},
 {"width":1281,"height":910,"title":{"text":"(f)","orient":"bottom","offset":36},
  "layer":[
   {"data":{"name":"f"},"mark":{"type":"line","interpolate":"monotone","strokeWidth":3.5},
    "encoding":{
     "x":{"field":"f","type":"quantitative","scale":{"type":"log","domain":[0.01,1000000],"nice":false},"axis":{"orient":"bottom","values":[0.01,0.1,1,10,100,1000,10000,100000,1000000],"labelExpr":"['10⁻²','10⁻¹','10⁰','10¹','10²','10³','10⁴','10⁵','10⁶'][round(log(datum.value)/LN10)+2]","title":"Frequency of modulation, f, [Hz]","tickSize":20,"labelPadding":22,"titlePadding":31}},
     "y":{"field":"v","type":"quantitative","scale":{"domain":[25,225],"nice":false,"zero":false},"axis":{"orient":"left","values":[50,100,150,200],"title":"Phase, φ, [Pa]","tickSize":22,"labelPadding":12,"titlePadding":5}},
     "color":{"field":"s","type":"nominal","scale":{"domain":["CHT","HHT","GCEI","GCEII","GCEIII","1LM"],"range":["#1a1a1a","#ff2a2a","#2a2aff","#2ee62e","#ff2aff","#2affff"]},"legend":{"legendX":915,"legendY":2}}}},
   {"data":{"values":[{}]},"mark":{"type":"text","text":"ν","fontStyle":"italic","align":"left","baseline":"middle"},
    "encoding":{"x":{"datum":0.0501,"type":"quantitative","scale":{"type":"log","domain":[0.01,1000000],"nice":false},"axis":{"orient":"top","values":[0.01,0.1,1,10,100,1000,10000,100000,1000000],"labels":false,"title":null,"tickSize":-22}},
     "y":{"datum":70.9,"type":"quantitative","scale":{"domain":[25,225],"nice":false,"zero":false},"axis":{"orient":"right","values":[50,100,150,200],"labels":false,"title":null,"tickSize":-20}}}},
   {"data":{"values":[{}]},"mark":{"type":"text","text":"₁=0.6","align":"left","baseline":"middle","dx":27},
    "encoding":{"x":{"datum":0.0501,"type":"quantitative","scale":{"type":"log","domain":[0.01,1000000],"nice":false},"axis":{"orient":"bottom","values":[0.02,0.03,0.04,0.05,0.06,0.07,0.08,0.09,0.2,0.3,0.4,0.5,0.6,0.7,0.8,0.9,2,3,4,5,6,7,8,9,20,30,40,50,60,70,80,90,200,300,400,500,600,700,800,900,2000,3000,4000,5000,6000,7000,8000,9000,20000,30000,40000,50000,60000,70000,80000,90000,200000,300000,400000,500000,600000,700000,800000,900000],"labels":false,"title":null,"tickSize":10}},
     "y":{"datum":70.9,"type":"quantitative","scale":{"domain":[25,225],"nice":false,"zero":false},"axis":{"orient":"left","values":[25,75,125,175,225],"labels":false,"title":null,"tickSize":12}}}},
   {"data":{"values":[{}]},"mark":{"type":"text","text":"l","fontStyle":"italic","align":"left","baseline":"middle"},
    "encoding":{"x":{"datum":0.0324,"type":"quantitative","scale":{"type":"log","domain":[0.01,1000000],"nice":false},"axis":{"orient":"top","values":[0.02,0.03,0.04,0.05,0.06,0.07,0.08,0.09,0.2,0.3,0.4,0.5,0.6,0.7,0.8,0.9,2,3,4,5,6,7,8,9,20,30,40,50,60,70,80,90,200,300,400,500,600,700,800,900,2000,3000,4000,5000,6000,7000,8000,9000,20000,30000,40000,50000,60000,70000,80000,90000,200000,300000,400000,500000,600000,700000,800000,900000],"labels":false,"title":null,"tickSize":-11}},
     "y":{"datum":48.7,"type":"quantitative","scale":{"domain":[25,225],"nice":false,"zero":false},"axis":{"orient":"right","values":[25,75,125,175,225],"labels":false,"title":null,"tickSize":-11}}}},
   {"data":{"values":[{}]},"mark":{"type":"text","text":"₂=1 μm","align":"left","baseline":"middle","dx":17},
    "encoding":{"x":{"datum":0.0324,"type":"quantitative","scale":{"type":"log","domain":[0.01,1000000],"nice":false},"axis":null},
     "y":{"datum":48.7,"type":"quantitative","scale":{"domain":[25,225],"nice":false,"zero":false},"axis":null}}}
  ],
  "resolve":{"axis":{"x":"independent","y":"independent"}}}
 ],"spacing":456,"resolve":{"scale":{"color":"independent"},"legend":{"color":"independent"}}}
]
}
